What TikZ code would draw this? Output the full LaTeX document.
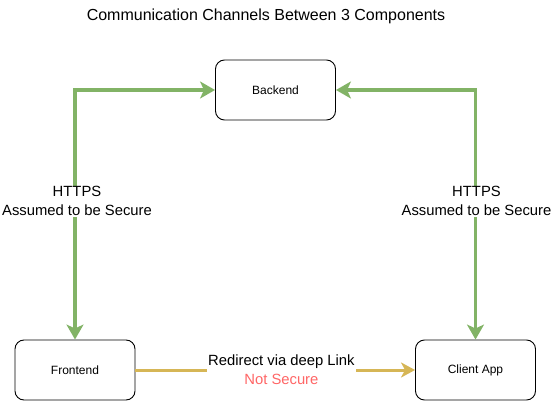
\documentclass[tikz,border=0pt]{standalone}
\usepackage{xcolor}
\usepackage{fontspec}
\setmainfont{Liberation Sans}
\usepackage{tikz}
\usetikzlibrary{arrows.meta, positioning}

\definecolor{httpsgreen}{HTML}{82B366}
\definecolor{linkgold}{HTML}{D6B656}
\definecolor{notsecure}{HTML}{FF6666}

\begin{document}
\begin{tikzpicture}[x=1pt, y=-1pt,
    comp/.style={draw, line width=0.9pt, rounded corners=9pt, minimum width=120pt, minimum height=60pt, font=\fontsize{12}{14}\selectfont},
    secure/.style={draw=httpsgreen, line width=3.2pt, {Stealth[length=15pt, width=17pt, inset=4pt]}-{Stealth[length=15pt, width=17pt, inset=4pt]}},
    insecure/.style={draw=linkgold, line width=3pt, -{Stealth[length=14pt, width=15pt, inset=4pt]}},
    chanlabel/.style={fill=white, align=center, inner sep=1pt, font=\fontsize{14.8}{19}\selectfont}]
    \useasboundingbox (0,0) rectangle (552,401);
    \node (title) at (266,16) {\fontsize{16}{19}\selectfont Communication Channels Between 3 Components};
    \node[comp] (backend) at (275.5,90) {Backend};
    \node[comp] (frontend) at (75,370) {Frontend};
    \node[comp] (client) at (475.5,370) {Client App};
    \draw[secure] (frontend.north) |- (backend.west) node[chanlabel, pos=0.277, xshift=2pt] {HTTPS\\Assumed to be Secure};
    \draw[secure] (client.north) |- (backend.east) node[chanlabel, pos=0.277, xshift=1pt] {HTTPS\\Assumed to be Secure};
    \draw[insecure] (frontend) -- (client) node[chanlabel, pos=0.522] {Redirect via deep Link\\\textcolor{notsecure}{Not Secure}};
\end{tikzpicture}
\end{document}
